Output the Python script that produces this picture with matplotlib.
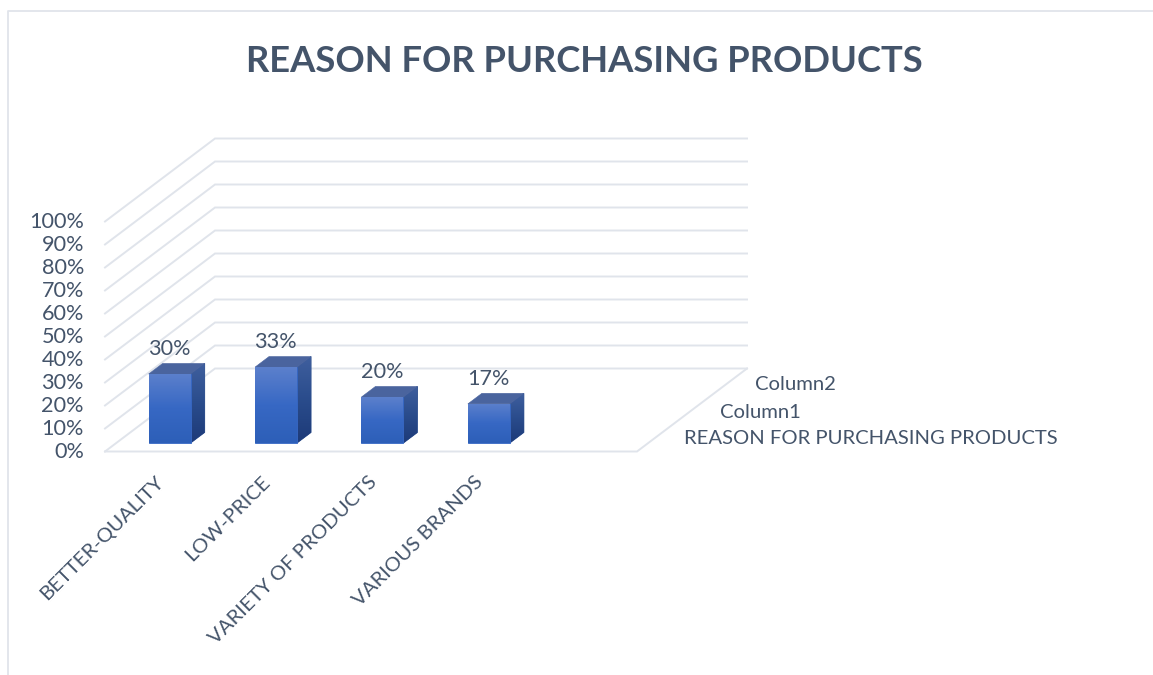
import numpy as np
import matplotlib
matplotlib.use("Agg")
import matplotlib.pyplot as plt
from matplotlib.colors import LinearSegmentedColormap
from matplotlib.patches import Polygon
from matplotlib.transforms import ScaledTranslation

# Chart content
chart_title = "REASON FOR PURCHASING PRODUCTS"
categories = ["BETTER-QUALITY", "LOW-PRICE", "VARIETY OF PRODUCTS", "VARIOUS BRANDS"]
values = [30, 33, 20, 17]
value_ticks = list(range(0, 101, 10))
series_labels = ["REASON FOR PURCHASING PRODUCTS", "Column1", "Column2"]

TEXT = "#44546A"
GRID = "#E0E4EB"
FONT = "Lato"

W, H, DPI = 1153, 675, 100
plt.rcParams["font.family"] = [FONT, "DejaVu Sans"]

fig = plt.figure(figsize=(W / DPI, H / DPI), dpi=DPI, facecolor="white")
ax = fig.add_axes([0, 0, 1, 1])

# Scales: x counts category bands, y is percent on the front plane of the box
PX_PER_CAT = 106.4
PX_PER_PCT = 2.3
X0_PX, Y0_PX = 158.2, 451.5
ax.set_xlim(-X0_PX / PX_PER_CAT, (W - X0_PX) / PX_PER_CAT)
ax.set_ylim(-(H - Y0_PX) / PX_PER_PCT, Y0_PX / PX_PER_PCT)
ax.axis("off")
xlim, ylim = ax.get_xlim(), ax.get_ylim()

# Oblique projection: depth 0 is the front of the box, depth 1 the back wall
DEPTH_X = 110 / PX_PER_CAT
DEPTH_Y = 83 / PX_PER_PCT


def project(cat, pct, depth=0.0):
    return cat + depth * DEPTH_X, pct + depth * DEPTH_Y


# Outer chart frame, open on the right and bottom
frame_left = xlim[0] + 8 / PX_PER_CAT
frame_top = ylim[1] - 11 / PX_PER_PCT
ax.plot([frame_left, frame_left, xlim[1]], [ylim[0], frame_top, frame_top],
        color=GRID, lw=1.3, zorder=1)

# Walls: left wall and back wall lines for every tick
left, right = -0.5, 4.5
tick_shift = ax.transData + ScaledTranslation(-21 / DPI, -0.8 / DPI, fig.dpi_scale_trans)
for pct in value_ticks:
    pts = [project(left, pct, 0), project(left, pct, 1), project(right, pct, 1)]
    ax.plot(*zip(*pts), color=GRID, lw=1.4, zorder=1, solid_joinstyle="miter")
    ax.text(*project(left, pct, 0), f"{pct}%", transform=tick_shift,
            ha="right", va="center", fontsize=15.6, color=TEXT)

# Floor outline
floor = [project(left, 0, 0), project(right, 0, 0), project(right, 0, 1)]
ax.plot(*zip(*floor), color=GRID, lw=1.4, zorder=1, solid_joinstyle="miter")

front_cmap = LinearSegmentedColormap.from_list("front", ["#5C80CC", "#3768C4", "#2D5FB8"])
side_cmap = LinearSegmentedColormap.from_list("side", ["#3F5F9E", "#2A4C8C", "#1D3A78"])
top_color = "#4A649E"


def shaded_face(corners, cmap, base_color, zorder):
    """Fill a polygon with a vertical gradient clipped to its outline."""
    # A solid underlay closes hairline gaps left by the pixel-snapped clip
    ax.add_patch(Polygon(corners, closed=True, facecolor=base_color,
                         edgecolor=base_color, lw=0.6, zorder=zorder - 0.5))
    xs, ys = zip(*corners)
    grad = np.linspace(0, 1, 128).reshape(-1, 1)
    img = ax.imshow(grad, cmap=cmap, aspect="auto", origin="upper",
                    extent=(min(xs), max(xs), min(ys), max(ys)),
                    zorder=zorder, interpolation="bilinear")
    img.set_clip_path(Polygon(corners, closed=True, transform=ax.transData))


BAR_WIDTH = 42 / PX_PER_CAT
BAR_NUDGE = 0.2 / PX_PER_CAT
BAR_FRONT = 8.5 / 83
BAR_BACK = BAR_FRONT + 14 / 110

for i, (name, val) in enumerate(zip(categories, values)):
    x0, x1 = i + BAR_NUDGE - BAR_WIDTH / 2, i + BAR_NUDGE + BAR_WIDTH / 2
    # Side face
    shaded_face([project(x1, 0, BAR_FRONT), project(x1, 0, BAR_BACK),
                 project(x1, val, BAR_BACK), project(x1, val, BAR_FRONT)],
                side_cmap, "#2A4C8C", 3)
    # Front face
    shaded_face([project(x0, 0, BAR_FRONT), project(x1, 0, BAR_FRONT),
                 project(x1, val, BAR_FRONT), project(x0, val, BAR_FRONT)],
                front_cmap, "#3768C4", 4)
    # Top face
    ax.add_patch(Polygon([project(x0, val, BAR_FRONT), project(x1, val, BAR_FRONT),
                          project(x1, val, BAR_BACK), project(x0, val, BAR_BACK)],
                         closed=True, facecolor=top_color, edgecolor=top_color,
                         lw=0.4, zorder=3.8))
    # Value label above the bar
    lx, ly = project(i, val, BAR_FRONT)
    ax.annotate(f"{val}%", (lx, ly), xytext=(-0.3, 18), textcoords="offset points",
                ha="center", va="center", fontsize=15.6, color=TEXT, zorder=5)
    # Slanted category label under the floor
    cx, cy = project(i, 0, 0)
    ax.annotate(name, (cx, cy), xytext=(-2.4, -15.4), textcoords="offset points",
                ha="right", va="top", rotation=45, rotation_mode="anchor",
                fontsize=14.7, color=TEXT)

# Series names along the depth axis
series_px = [(684, 439), (720, 412), (755, 384)]
for label, (px, py) in zip(series_labels, series_px):
    ax.text((px - X0_PX) / PX_PER_CAT, (Y0_PX - py) / PX_PER_PCT, label,
            ha="left", va="center", fontsize=14.6, color=TEXT)

ax.text((584 - X0_PX) / PX_PER_CAT, (Y0_PX - 62) / PX_PER_PCT, chart_title,
        ha="center", va="center", fontsize=26.2, fontweight="bold", color=TEXT)

fig.savefig("out.png", dpi=DPI, facecolor="white")
